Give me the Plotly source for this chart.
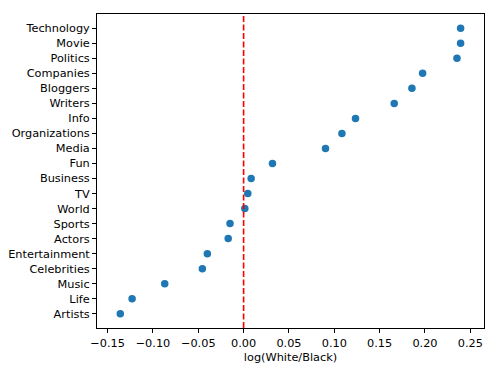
import plotly.graph_objects as go

# categories from bottom to top
categories = [
    "Artists", "Life", "Music", "Celebrities", "Entertainment", "Actors",
    "Sports", "World", "TV", "Business", "Fun", "Media", "Organizations",
    "Info", "Writers", "Bloggers", "Companies", "Politics", "Movie", "Technology",
]
log_ratio = [
    -0.136, -0.123, -0.087, -0.0455, -0.040, -0.017,
    -0.015, 0.0013, 0.0046, 0.0083, 0.0318, 0.0903, 0.1084,
    0.1234, 0.1661, 0.1856, 0.1974, 0.2353, 0.2393, 0.2393,
]
x_ticks = [-0.15, -0.10, -0.05, 0.00, 0.05, 0.10, 0.15, 0.20, 0.25]

fig = go.Figure(
    go.Scatter(
        x=log_ratio,
        y=categories,
        mode="markers",
        marker={"color": "#1f77b4", "size": 7.5},
        showlegend=False,
    )
)

fig.add_vline(
    x=0, opacity=1, layer="above",
    line={"color": "#ff0000", "width": 1.6, "dash": "6px,2.5px"},
)

axis_style = {
    "ticks": "outside",
    "ticklen": 4,
    "tickcolor": "black",
    "showline": True,
    "linecolor": "black",
    "linewidth": 1,
    "mirror": True,
    "showgrid": False,
    "zeroline": False,
    "automargin": False,
}

fig.update_layout(
    width=498,
    height=374,
    template="none",
    margin={"l": 97, "r": 14, "t": 14, "b": 46},
    font={"family": "DejaVu Sans", "size": 11.3, "color": "black"},
    plot_bgcolor="white",
    paper_bgcolor="white",
    xaxis={
        **axis_style,
        "range": [-0.1617, 0.2651],
        "tickvals": x_ticks,
        "ticktext": [f"{v:.2f}".replace("-", "\u2212") for v in x_ticks],
        "title": {"text": "log(White/Black)", "standoff": 4, "font": {"size": 11.3}},
    },
    yaxis={
        **axis_style,
        "type": "category",
        "categoryorder": "array",
        "categoryarray": categories,
        "range": [-0.95, 19.95],
    },
)

fig.write_html(
    "out.html",
    config={"displayModeBar": False},
    post_script="document.body.style.margin='0';",
)
